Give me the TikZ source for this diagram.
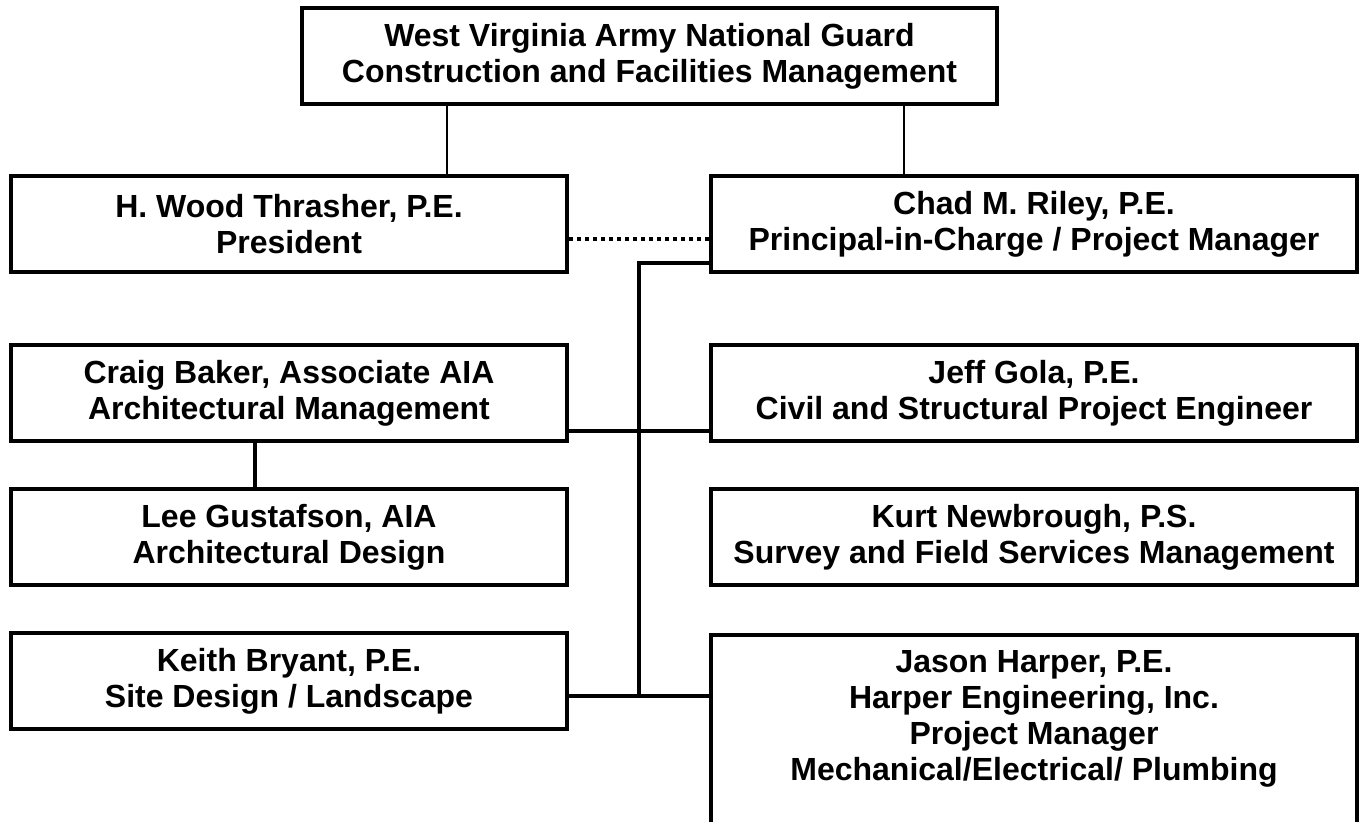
\documentclass[tikz,border=0pt]{standalone}
\usepackage{fontspec}
\setmainfont{Liberation Sans}
\begin{document}
\begin{tikzpicture}[x=1pt,y=-1pt,
  txt/.style={inner sep=0pt, align=center, font=\fontsize{32}{36}\selectfont\bfseries},
  box/.style={txt, draw, line width=3.5pt, minimum width=#1, minimum height=96pt},
  thinconn/.style={line width=1.6pt},
  conn/.style={line width=3.5pt},
  dotconn/.style={line width=4pt, dash pattern=on 4pt off 4pt}]
\useasboundingbox (0,0) rectangle (1361,822);
\node[box=695] (top) at (649.5,56) {West Virginia Army National Guard\\Construction and Facilities Management};
\node[box=556] (thr) at (289,224) {H. Wood Thrasher, P.E.\\President};
\node[box=646] (riley) at (1034,224) {Chad M. Riley, P.E.\\Principal-in-Charge / Project Manager};
\node[box=556] (craig) at (289,393) {Craig Baker, Associate AIA\\Architectural Management};
\node[box=646] (jeff) at (1034,393) {Jeff Gola, P.E.\\Civil and Structural Project Engineer};
\node[box=556] (lee) at (289,537) {Lee Gustafson, AIA\\Architectural Design};
\node[box=646] (kurt) at (1034,537) {Kurt Newbrough, P.S.\\Survey and Field Services Management};
\node[box=556] (keith) at (289,681) {Keith Bryant, P.E.\\Site Design / Landscape};
\node[box=646, minimum height=330pt, anchor=north,
  label={[txt, anchor=north, yshift=-17pt]north:{Jason Harper, P.E.\\Harper Engineering, Inc.\\Project Manager\\Mechanical/Electrical/ Plumbing}}]
  (jason) at (1034,633) {};
\coordinate (spinetop) at (639,263);
\coordinate (spinebot) at (639,696);
\draw[thinconn] (447,0 |- top.south) -- (447,0 |- thr.north);
\draw[thinconn] (904,0 |- top.south) -- (904,0 |- riley.north);
\draw[dotconn] (thr.east |- 0,239) -- (riley.west |- 0,239);
\draw[conn] (riley.west |- spinetop) -- (spinetop) -- (spinebot);
\draw[conn] (craig.east |- 0,431) -- (jeff.west |- 0,431);
\draw[conn] (keith.east |- spinebot) -- (jason.west |- spinebot);
\draw[conn] (255,0 |- craig.south) -- (255,0 |- lee.north);
\end{tikzpicture}
\end{document}
